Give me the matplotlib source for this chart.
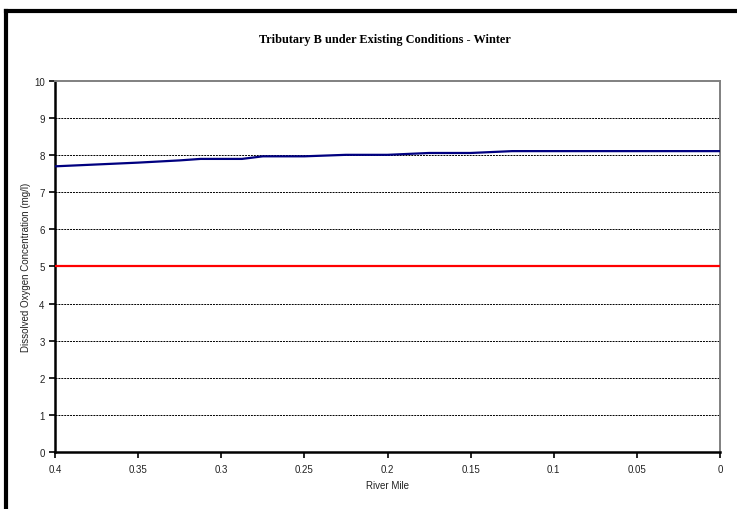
import matplotlib
matplotlib.use("Agg")
import matplotlib.pyplot as plt
from matplotlib.lines import Line2D

# Dissolved oxygen along the tributary, winter, existing conditions
river_mile = [0.4, 0.375, 0.35, 0.325, 0.3125, 0.2875, 0.275, 0.25, 0.225,
              0.2, 0.175, 0.15, 0.125, 0.1, 0.075, 0.05, 0.025, 0.0]
dissolved_oxygen = [7.70, 7.75, 7.80, 7.86, 7.90, 7.90, 7.97, 7.97, 8.01,
                    8.01, 8.06, 8.06, 8.11, 8.11, 8.11, 8.11, 8.11, 8.11]

# water quality standard
standard_mile = [0.4, 0.0]
standard_do = [5, 5]

x_ticks = [0.4, 0.35, 0.3, 0.25, 0.2, 0.15, 0.1, 0.05, 0]
x_tick_labels = ['0.4', '0.35', '0.3', '0.25', '0.2', '0.15', '0.1', '0.05', '0']
y_ticks = list(range(0, 11))

fig = plt.figure(figsize=(7.37, 5.10), dpi=100)
ax = fig.add_axes([0.0746, 0.1118, 0.9024, 0.7274])

ax.plot(river_mile, dissolved_oxygen, color='#000080', lw=1.6, zorder=3)
ax.plot(standard_mile, standard_do, color='#ff0000', lw=1.6, zorder=3)

ax.set_xlim(0.4, 0)
ax.set_ylim(0, 10)
ax.set_xticks(x_ticks)
ax.set_xticklabels(x_tick_labels)
ax.set_yticks(y_ticks)

for y in y_ticks[1:-1]:
    ax.axhline(y, color='black', lw=0.7, ls=(0, (2, 1)), zorder=1)

for side in ['left', 'bottom']:
    ax.spines[side].set_color('black')
    ax.spines[side].set_linewidth(1.8)
for side in ['top', 'right']:
    ax.spines[side].set_color('#808080')
    ax.spines[side].set_linewidth(1.4)

ax.tick_params(axis='both', direction='out', length=4, width=1.2,
               colors='black', labelcolor='#222222', labelsize=7)
ax.tick_params(axis='x', pad=5)
for lbl in ax.get_xticklabels() + ax.get_yticklabels():
    lbl.set_fontfamily('Liberation Sans')

ax.set_xlabel('River Mile', fontsize=7, fontfamily='Liberation Sans',
              color='#222222', labelpad=4)
ax.set_ylabel('Dissolved Oxygen Concentration (mg/l)', fontsize=7,
              fontfamily='Liberation Sans', color='#222222', labelpad=2)

fig.text(0.522, 0.921, 'Tributary B under Existing Conditions - Winter',
         ha='center', va='center', fontsize=8.8, fontweight='bold',
         fontfamily='Liberation Serif')

# outer chart frame (left and top edges)
fig.add_artist(Line2D([0.0075, 0.0075], [0.0, 0.977], color='black', lw=3,
                      transform=fig.transFigure, solid_capstyle='projecting'))
fig.add_artist(Line2D([0.0075, 1.0], [0.977, 0.977], color='black', lw=3,
                      transform=fig.transFigure, solid_capstyle='projecting'))

fig.savefig('out.png', dpi=100)
